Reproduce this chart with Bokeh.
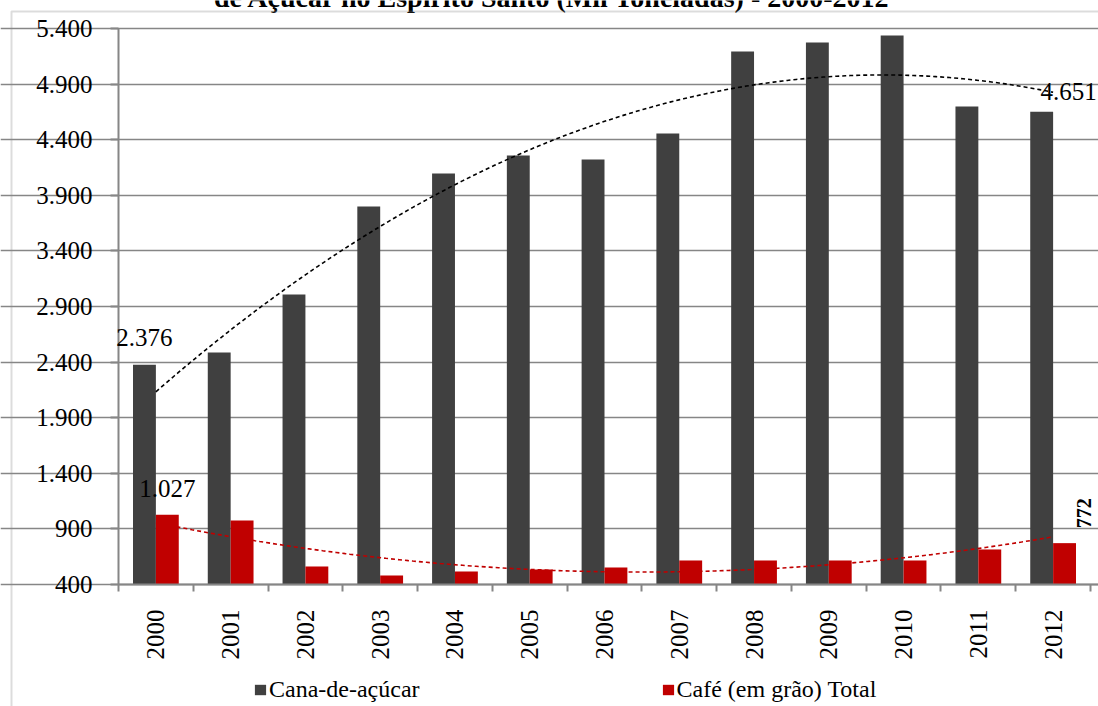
import math
import numpy as np
from bokeh.plotting import figure
from bokeh.models import (FixedTicker, Label, Legend, LegendItem, BoxAnnotation, Range1d,
                          ColumnDataSource)
from bokeh.embed import file_html
from bokeh.resources import INLINE

# ---------------- data ----------------
years = ["2000", "2001", "2002", "2003", "2004", "2005", "2006",
         "2007", "2008", "2009", "2010", "2011", "2012"]
cana = [2376, 2486, 3008, 3799, 4096, 4258, 4222, 4456, 5193, 5274, 5337, 4699, 4651]
cafe = [1027, 975, 562, 481, 517, 535, 553, 616, 616, 616, 616, 715, 772]
y_ticks = [400, 900, 1400, 1900, 2400, 2900, 3400, 3900, 4400, 4900, 5400]
y_tick_labels = ["400", "900", "1.400", "1.900", "2.400", "2.900", "3.400",
                 "3.900", "4.400", "4.900", "5.400"]
series_names = ["Cana-de-açúcar", "Café (em grão) Total"]
title_text = "de Açúcar no Espírito Santo (Mil Toneladas) - 2000-2012"

FONT = "'Liberation Serif'"
DARK = "#404040"
RED = "#C00000"
GRID = "#868686"

W, H = 1098, 706
n = len(years)
centers = [i + 0.5 for i in range(n)]
bw = 0.306
off = 0.153

# layout of the plotting area inside the canvas (pixels)
AX_LEFT, AX_RIGHT_CAT, AX_TOP, AX_BOTTOM = 118, 1090, 28, 584
px_cat = (AX_RIGHT_CAT - AX_LEFT) / n
u_px = (y_ticks[-1] - y_ticks[0]) / (AX_BOTTOM - AX_TOP)
x_start = -AX_LEFT / px_cat
x_end = (W - AX_LEFT) / px_cat
y_end = y_ticks[-1] + AX_TOP * u_px
y_start = y_ticks[0] - (H - AX_BOTTOM) * u_px


def fmt(v):
    return f"{v:,}".replace(",", ".")


p = figure(width=W, height=H, output_backend="svg", toolbar_location=None,
           x_range=Range1d(x_start, x_end), y_range=Range1d(y_start, y_end),
           min_border=0)
p.outline_line_color = None
p.background_fill_color = "white"
p.border_fill_color = "white"

# axes (fixed inside the canvas)
p.yaxis.fixed_location = 0
p.yaxis.bounds = (y_ticks[0], y_ticks[-1])
p.yaxis.ticker = FixedTicker(ticks=y_ticks)
p.yaxis.major_label_overrides = {t: l for t, l in zip(y_ticks, y_tick_labels)}
p.yaxis.major_tick_out = 8
p.yaxis.major_tick_in = 0
p.yaxis.minor_tick_line_color = None
p.yaxis.major_label_standoff = 18
p.yaxis.axis_line_color = GRID
p.yaxis.axis_line_width = 2
p.yaxis.major_tick_line_color = GRID
p.yaxis.major_tick_line_width = 2
p.yaxis.major_label_text_font = FONT
p.yaxis.major_label_text_font_size = "25px"
p.yaxis.major_label_text_color = "black"

p.xaxis.fixed_location = y_ticks[0]
p.xaxis.bounds = (0, x_end)
p.xaxis.ticker = FixedTicker(ticks=centers, minor_ticks=list(range(n + 1)))
p.xaxis.major_label_overrides = {c: y for c, y in zip(centers, years)}
p.xaxis.major_tick_out = 0
p.xaxis.major_tick_in = 0
p.xaxis.minor_tick_out = 7
p.xaxis.minor_tick_in = 0
p.xaxis.minor_tick_line_color = GRID
p.xaxis.minor_tick_line_width = 2
p.xaxis.axis_line_color = GRID
p.xaxis.axis_line_width = 2
p.xaxis.major_label_orientation = math.pi / 2
p.xaxis.major_label_standoff = 18
p.xaxis.major_label_text_font = FONT
p.xaxis.major_label_text_font_size = "25px"
p.xaxis.major_label_text_color = "black"

p.xgrid.visible = False
p.ygrid.grid_line_color = GRID
p.ygrid.grid_line_width = 1.5
p.ygrid.bounds = (0, x_end)

# bars
src = ColumnDataSource(dict(
    xc=[c - off for c in centers], xr=[c + off for c in centers],
    cana=cana, cafe=cafe))
r1 = p.vbar(x="xc", top="cana", bottom=y_ticks[0], width=bw, source=src,
            fill_color=DARK, line_color=None)
r2 = p.vbar(x="xr", top="cafe", bottom=y_ticks[0], width=bw, source=src,
            fill_color=RED, line_color=None)

# polynomial (order 2) trendlines computed from the series
xs = np.linspace(centers[0], centers[-1], 200)
k1 = np.polyfit(centers, cana, 2)
k2 = np.polyfit(centers, cafe, 2)
p.line(xs, np.polyval(k1, xs), line_color="black", line_dash="4 3", line_width=1.6)
p.line(xs, np.polyval(k2, xs), line_color=RED, line_dash="4 3", line_width=1.6)

# data labels
p.add_layout(Label(x=centers[0] - off, y=cana[0], text=fmt(cana[0]), y_offset=27,
                   text_align="center", text_baseline="middle",
                   text_font=FONT, text_font_size="25px", text_color="black"))
p.add_layout(Label(x=centers[0] + off, y=cafe[0], text=fmt(cafe[0]), y_offset=26,
                   text_align="center", text_baseline="middle",
                   text_font=FONT, text_font_size="25px", text_color="black"))
p.add_layout(Label(x=centers[-1] - off, y=cana[-1], text=fmt(cana[-1]), y_offset=20,
                   x_offset=27,
                   text_align="center", text_baseline="middle",
                   text_font=FONT, text_font_size="25px", text_color="black"))
p.add_layout(Label(x=centers[-1] + off, y=cafe[-1], text=fmt(cafe[-1]), y_offset=15,
                   x_offset=19, angle=math.pi / 2,
                   text_align="left", text_baseline="middle", text_font_style="bold",
                   text_font=FONT, text_font_size="20px", text_color="black"))

# title (partly cut off at the top, as in the reference)
p.add_layout(Label(x=(552 - AX_LEFT) / px_cat, y=y_ticks[-1] + (AX_TOP + 3) * u_px,
                   text=title_text, text_align="center",
                   text_baseline="middle", text_font=FONT, text_font_size="28px",
                   text_font_style="bold", text_color="black"))

# outer chart-area border (left and top edges visible)
p.add_layout(BoxAnnotation(left=(11 - AX_LEFT) / px_cat, right=x_end + 5,
                           top=y_ticks[-1] + (AX_TOP - 11) * u_px, bottom=y_start - 500,
                           fill_alpha=0, line_color="#8c8c8c", line_width=2))

legend = Legend(items=[LegendItem(label=series_names[0], renderers=[r1]),
                       LegendItem(label=series_names[1], renderers=[r2])],
                location=(253, 3), orientation="horizontal", spacing=241,
                padding=0, margin=0, border_line_color=None,
                background_fill_alpha=0, glyph_width=14, glyph_height=13,
                label_standoff=2, label_text_font=FONT,
                label_text_font_size="24px", label_text_color="black")
p.add_layout(legend)

open("out.html", "w").write(file_html(p, INLINE))
